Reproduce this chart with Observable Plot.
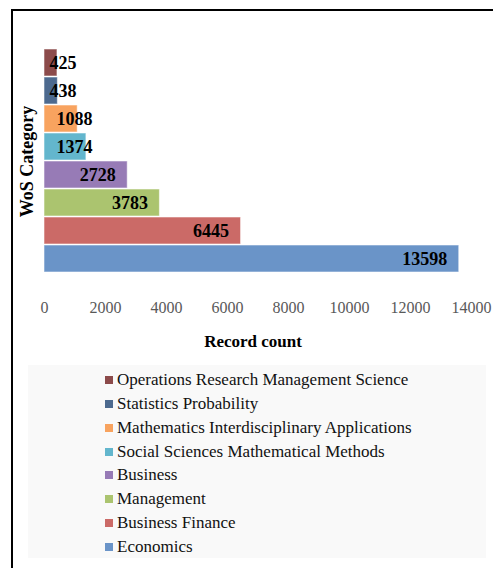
<!DOCTYPE html>
<html>
<head>
<meta charset="utf-8">
<script src="https://cdn.jsdelivr.net/npm/d3@7"></script>
<script src="https://cdn.jsdelivr.net/npm/@observablehq/plot@0.6"></script>
<style>
  html, body { margin: 0; padding: 0; background: #fff; overflow: hidden; }
  body { width: 493px; height: 568px; position: relative; }
  #frame { position: absolute; left: 11px; top: 9px; width: 600px; height: 700px;
           border-left: 2px solid #000; border-top: 2px solid #000; box-sizing: border-box; }
  #chart { position: absolute; left: 0; top: 0; }
  #chart g[aria-label="x-axis tick label"] text { fill: #595959; }
  #legend { position: absolute; left: 28px; top: 365px; width: 458px; height: 193px;
            background: #f9f9f9; box-sizing: border-box; padding-top: 3px;
            font-family: "Liberation Serif", "Times New Roman", serif; }
  .item { position: relative; height: 23.86px; line-height: 23.86px; font-size: 17px; color: #111;
          padding-left: 89px; white-space: nowrap;
          font-family: "Liberation Serif", "Times New Roman", serif; }
  .swatch { position: absolute; left: 77px; top: 8px; width: 8px; height: 8px; }
</style>
</head>
<body>
<div id="frame"></div>
<div id="chart"></div>
<div id="legend"></div>
<script>
// Web of Science categories, top to bottom
const categories = [
  "Operations Research Management Science",
  "Statistics Probability",
  "Mathematics Interdisciplinary Applications",
  "Social Sciences Mathematical Methods",
  "Business",
  "Management",
  "Business Finance",
  "Economics"
];
const recordCounts = [425, 438, 1088, 1374, 2728, 3783, 6445, 13598];
const colors = ["#8c4b4b", "#4d6a8f", "#f8a35f", "#63b6cd", "#977bb6", "#abc46f", "#cb6a67", "#6a94c8"];
const xTicks = [0, 2000, 4000, 6000, 8000, 10000, 12000, 14000];

const rows = categories.map((category, i) => ({category, count: recordCounts[i]}));

const labelFont = {fontSize: 18, fontWeight: "bold", fill: "#000"};

const chart = Plot.plot({
  width: 493,
  height: 360,
  marginLeft: 44,
  marginRight: 22,
  marginTop: 45,
  marginBottom: 85,
  style: {fontFamily: "Liberation Serif", background: "transparent", overflow: "visible"},
  x: {domain: [0, 14000]},
  y: {domain: categories, axis: null, paddingInner: 0.05, paddingOuter: 0},
  color: {domain: categories, range: colors},
  marks: [
    Plot.barX(rows, {x: "count", y: "category", fill: "category", stroke: "#fff", strokeOpacity: 0.55, strokeWidth: 1}),
    Plot.axisX({ticks: xTicks, tickSize: 0, tickPadding: 26, fontSize: 16, label: null, tickFormat: d => String(d)}),
    // labels inside the bar end where they fit
    Plot.text(rows.filter(d => d.count >= 2000), {x: "count", y: "category", text: d => String(d.count), textAnchor: "end", dx: -12, ...labelFont}),
    // shorter bars: labels start near the axis
    Plot.text(rows.filter(d => d.count < 500), {x: 0, y: "category", text: d => String(d.count), textAnchor: "start", dx: 5, ...labelFont}),
    Plot.text(rows.filter(d => d.count >= 500 && d.count < 2000), {x: 0, y: "category", text: d => String(d.count), textAnchor: "start", dx: 12, ...labelFont}),
    Plot.text(["Record count"], {frameAnchor: "bottom", dy: 71, dx: -5, fontSize: 17, fontWeight: "bold", fill: "#000"}),
    Plot.text(["WoS Category"], {frameAnchor: "left", textAnchor: "middle", rotate: -90, dx: -17, dy: 1, fontSize: 18, fontWeight: "bold", fill: "#000"})
  ]
});
document.getElementById("chart").appendChild(chart);

// legend listing the categories in the same order as the bars
const legend = document.getElementById("legend");
categories.forEach((c, i) => {
  const item = document.createElement("div");
  item.className = "item";
  const sw = document.createElement("span");
  sw.className = "swatch";
  sw.style.background = colors[i];
  item.appendChild(sw);
  item.appendChild(document.createTextNode(c));
  legend.appendChild(item);
});
</script>
</body>
</html>
